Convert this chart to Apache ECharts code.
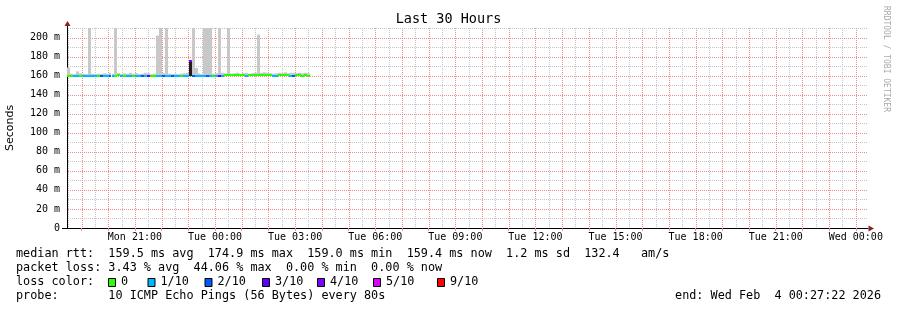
<!DOCTYPE html>
<html><head><meta charset="utf-8">
<script src="https://cdn.jsdelivr.net/npm/echarts@6/dist/echarts.min.js"></script>
<style>html,body{margin:0;padding:0;background:#fff}#c{width:897px;height:310px}</style>
</head><body><div id="c"></div>
<script>
// ---------------- data ----------------
const TITLE = 'Last 30 Hours';
// time expressed as hours since Mon 00:00
const START_H = 18 + 27 / 60 + 22 / 3600;   // Mon 18:27:22
const END_H = START_H + 30;                  // Wed 00:27:22
const STEP_H = 400 / 3600;                   // one sample every 400 s
const Y_MAX = 210;

const MEDIAN = [
  159.6,159.8,159.4,159.3,159.7,159.4,159.2,159.3,159.5,159.4,
  159.8,159.3,159.4,159.6,159.2,159.5,159.9,160.2,159.5,159.9,
  159.4,159.3,160.1,159.4,159.6,159.2,159.4,159.3,159.8,160.0,
  159.4,159.5,159.3,159.4,159.6,159.2,159.4,159.5,159.7,159.4,
  159.3,174.9,159.4,159.5,159.6,159.7,159.8,159.6,159.8,160.1,
  159.9,159.7,159.9,160.2,160.3,160.4,160.2,160.5,160.3,160.6,
  159.9,160.4,160.6,160.3,160.5,160.7,160.4,160.6,160.3,160.0,
  159.9,160.4,160.6,160.3,160.5,159.8,159.7,160.2,160.4,160.1,
  160.3,159.4
];
const LOSS = [
  0,0,1,1,0,1,1,1,1,1,
  0,2,1,1,2,1,0,0,1,0,
  1,1,0,1,1,2,1,3,0,0,
  1,1,2,1,1,2,1,1,0,1,
  1,4,2,1,1,1,1,2,1,0,
  1,3,1,0,0,0,0,0,0,0,
  1,0,0,0,0,0,0,0,0,1,
  1,0,0,0,0,1,2,0,0,0,
  0,0
];
const SMOKE_MAX = [
  168.5,162.0,161.5,164.5,162.5,162.0,161.5,225.0,162.0,161.5,
  162.0,161.8,162.5,162.0,163.0,162.0,225.0,162.5,161.8,162.5,
  162.0,163.0,162.0,162.5,161.5,162.0,163.0,162.5,161.5,162.0,
  202.0,225.0,162.5,225.0,162.0,161.5,162.0,161.5,162.0,162.5,
  163.0,176.0,225.0,168.0,162.5,161.5,225.0,225.0,225.0,162.0,
  162.5,225.0,163.0,162.5,225.0,162.0,162.5,163.0,162.0,162.5,
  163.0,162.0,162.5,163.0,203.0,163.0,163.5,163.0,162.5,162.0,
  162.5,163.0,162.5,163.5,162.5,163.0,163.0,162.5,163.0,162.5,
  163.0,162.5
];
const SMOKE_MIN = [
  159.2,159.4,159.1,159.0,159.3,159.1,159.0,159.0,159.2,159.1,
  159.4,159.0,159.1,159.3,159.0,159.2,159.5,159.8,159.2,159.5,
  159.1,159.0,159.7,159.1,159.3,159.0,159.1,159.0,159.4,159.6,
  159.1,159.2,159.0,159.1,159.3,159.0,159.1,159.2,159.4,159.1,
  159.0,159.4,159.1,159.2,159.3,159.4,159.5,159.3,159.5,159.8,
  159.6,159.4,159.6,159.9,160.0,160.1,159.9,160.2,160.0,160.3,
  159.6,160.1,160.3,160.0,160.2,160.4,160.1,160.3,160.0,159.7,
  159.6,160.1,160.3,160.0,160.2,159.5,159.4,159.9,160.1,159.8,
  160.0,159.1
];

const LOSS_LEVELS = [0, 1, 2, 3, 4, 5, 9];
const LOSS_LABELS = ['0', '1/10', '2/10', '3/10', '4/10', '5/10', '9/10'];
const LOSS_COLORS = ['#26ff00', '#00b8ff', '#0059ff', '#5e00ff', '#7e00ff', '#dd00ff', '#ff0000'];

const X_LABEL_HOURS = [21, 24, 27, 30, 33, 36, 39, 42, 45, 48];
const X_LABELS = ['Mon 21:00', 'Tue 00:00', 'Tue 03:00', 'Tue 06:00', 'Tue 09:00',
                  'Tue 12:00', 'Tue 15:00', 'Tue 18:00', 'Tue 21:00', 'Wed 00:00'];
const Y_LABEL_VALUES = [0, 20, 40, 60, 80, 100, 120, 140, 160, 180, 200];
const Y_LABELS = ['0', '20 m', '40 m', '60 m', '80 m', '100 m', '120 m', '140 m', '160 m', '180 m', '200 m'];

const STATS_LINES = [
  'median rtt:  159.5 ms avg  174.9 ms max  159.0 ms min  159.4 ms now  1.2 ms sd  132.4   am/s',
  'packet loss: 3.43 % avg  44.06 % max  0.00 % min  0.00 % now',
  'loss color:',
  'probe:       10 ICMP Echo Pings (56 Bytes) every 80s'
];
const END_TEXT = 'end: Wed Feb  4 00:27:22 2026';
const WATERMARK = 'RRDTOOL / TOBI OETIKER';

// ---------------- styles ----------------
const MONO = '"DejaVu Sans Mono", monospace';
const RED_GRID = '#ec8e8e';
const GRAY_GRID = '#c4c4c4';
const SMOKE_COLOR = '#c8c8c8';
const DENSE_SMOKE = '#1c1c24';
const ARROW = '#8a2020';

// grid lines: [orientation(0=vertical,1=horizontal), value, major(1)/minor(0)]
const gridRows = [];
for (let h = Math.ceil(START_H - 0.5) + 0.5; h <= END_H; h++) gridRows.push([0, h, 0]);
for (let v = 10; v <= Y_MAX; v += 20) gridRows.push([1, v, 0]);
for (let h = Math.ceil(START_H); h <= END_H; h++) gridRows.push([0, h, 1]);
Y_LABEL_VALUES.forEach(v => { if (v > 0) gridRows.push([1, v, 1]); });
const majorX = gridRows.filter(r => r[0] === 0 && r[2] === 1).map(r => r[1]);

const rows = MEDIAN.map((m, i) => [START_H + i * STEP_H, m, LOSS[i], SMOKE_MIN[i], SMOKE_MAX[i]]);

function lossColor(l) {
  let c = LOSS_COLORS[0];
  for (let k = 0; k < LOSS_LEVELS.length; k++) if (l >= LOSS_LEVELS[k]) c = LOSS_COLORS[k];
  return c;
}

const chart = echarts.init(document.getElementById('c'), null, { renderer: 'canvas', width: 897, height: 310 });

// text / legend graphics
const graphics = [];
graphics.push({ type: 'text', x: 448.5, y: 19, style: { text: TITLE, font: '13.5px ' + MONO, fill: '#000', align: 'center', verticalAlign: 'middle' } });
graphics.push({ type: 'text', x: 886, y: 59, rotation: -Math.PI / 2, style: { text: WATERMARK, font: '8px ' + MONO, fill: '#aaaaaa', align: 'center', verticalAlign: 'middle' } });
const ROW_Y = [254, 268, 282, 296];
STATS_LINES.forEach((t, i) => {
  graphics.push({ type: 'text', x: 16, y: ROW_Y[i], style: { text: t, font: '11.8px ' + MONO, fill: '#000', align: 'left', verticalAlign: 'middle' } });
});
const SWATCH_TEXT_X = [121, 160.5, 217.5, 275, 330, 386, 450];
LOSS_LABELS.forEach((lab, k) => {
  graphics.push({ type: 'rect', shape: { x: SWATCH_TEXT_X[k] - 12.5, y: 278.5, width: 7, height: 8 }, style: { fill: LOSS_COLORS[k], stroke: '#000', lineWidth: 1 } });
  graphics.push({ type: 'text', x: SWATCH_TEXT_X[k], y: ROW_Y[2], style: { text: lab, font: '11.8px ' + MONO, fill: '#000', align: 'left', verticalAlign: 'middle' } });
});
graphics.push({ type: 'text', x: 881, y: ROW_Y[3], style: { text: END_TEXT, font: '11.8px ' + MONO, fill: '#000', align: 'right', verticalAlign: 'middle' } });
// axis arrows / extensions
graphics.push({ type: 'rect', z: 10, shape: { x: 67, y: 25, width: 1, height: 3 }, style: { fill: '#000' } });
graphics.push({ type: 'polygon', z: 10, shape: { points: [[67.5, 21], [64.5, 26], [70.5, 26]] }, style: { fill: ARROW } });
graphics.push({ type: 'rect', z: 10, shape: { x: 62, y: 228, width: 5, height: 1 }, style: { fill: '#000' } });
graphics.push({ type: 'polygon', z: 10, shape: { points: [[874, 228.5], [868.5, 225.5], [868.5, 231.5]] }, style: { fill: ARROW } });

const option = {
  backgroundColor: '#ffffff',
  animation: false,
  grid: { left: 67, top: 28, width: 801, height: 200, containLabel: false, outerBoundsMode: 'none' },
  xAxis: {
    type: 'value', min: START_H, max: END_H, position: 'bottom',
    axisLine: { show: true, onZero: false, lineStyle: { color: '#000', width: 1 } },
    axisTick: { show: true, customValues: majorX, length: 3, inside: false, lineStyle: { color: RED_GRID } },
    axisLabel: {
      show: true, customValues: X_LABEL_HOURS, margin: 4,
      formatter: v => { const k = X_LABEL_HOURS.indexOf(Math.round(v)); return k >= 0 ? X_LABELS[k] : ''; },
      fontFamily: MONO, fontSize: 10, color: '#000'
    },
    splitLine: { show: false }
  },
  yAxis: {
    type: 'value', min: 0, max: Y_MAX, interval: 20,
    name: 'Seconds', nameLocation: 'middle', nameGap: 51, nameRotate: 90,
    nameTextStyle: { fontFamily: '"DejaVu Sans", sans-serif', fontSize: 11, color: '#000' },
    axisLine: { show: true, onZero: false, lineStyle: { color: '#000', width: 1 } },
    axisTick: { show: false },
    axisLabel: {
      margin: 7, fontFamily: MONO, fontSize: 10, color: '#000',
      formatter: v => { const k = Y_LABEL_VALUES.indexOf(Math.round(v)); return k >= 0 ? Y_LABELS[k] : ''; }
    },
    splitLine: { show: false }
  },
  graphic: graphics,
  series: [
    {
      // dotted grid lines drawn as 1px dots through the axes' own scales
      type: 'custom', name: 'grid', clip: false, data: gridRows, z: 1, silent: true,
      renderItem: (params, api) => {
        const r = gridRows[params.dataIndex];
        const o = r[0], v = r[1], fill = r[2] ? RED_GRID : GRAY_GRID;
        const ch = [];
        if (o === 0) {
          const x = Math.round(api.coord([v, 0])[0]);
          const y0 = Math.round(api.coord([v, Y_MAX])[1]), y1 = Math.round(api.coord([v, 0])[1]);
          for (let y = y0; y < y1; y += 2) ch.push({ type: 'rect', shape: { x: x, y: y, width: 1, height: 1 }, style: { fill: fill } });
        } else {
          const y = Math.round(api.coord([START_H, v])[1]);
          const x0 = Math.round(api.coord([START_H, v])[0]) + 1, x1 = Math.round(api.coord([END_H, v])[0]);
          for (let x = x0; x < x1; x += 2) ch.push({ type: 'rect', shape: { x: x, y: y, width: 1, height: 1 }, style: { fill: fill } });
        }
        return { type: 'group', children: ch };
      }
    },
    {
      type: 'custom', name: 'smoke', clip: true, data: rows, z: 2,
      renderItem: (params, api) => {
        const r = rows[params.dataIndex];
        const t = r[0], med = r[1], lo = r[3], hi = r[4];
        const a = api.coord([t, hi]), b = api.coord([t + STEP_H, med]), c = api.coord([t, lo]);
        const x0 = Math.round(a[0]), x1 = Math.round(b[0]);
        const ch = [{ type: 'rect', shape: { x: x0, y: a[1], width: x1 - x0, height: b[1] - a[1] }, style: { fill: SMOKE_COLOR } }];
        if (c[1] - b[1] > 2) ch.push({ type: 'rect', shape: { x: x0, y: b[1], width: x1 - x0, height: c[1] - b[1] }, style: { fill: DENSE_SMOKE } });
        return { type: 'group', children: ch };
      }
    },
    {
      type: 'custom', name: 'median', clip: true, data: rows, z: 3,
      renderItem: (params, api) => {
        const r = rows[params.dataIndex];
        const t = r[0], med = r[1], loss = r[2];
        const a = api.coord([t, med]), b = api.coord([t + STEP_H, med]);
        const x0 = Math.round(a[0]), x1 = Math.round(b[0]);
        return { type: 'rect', shape: { x: x0, y: Math.round(a[1]) - 1, width: x1 - x0, height: 2 }, style: { fill: lossColor(loss) } };
      }
    }
  ]
};
chart.setOption(option);
</script>
</body></html>
